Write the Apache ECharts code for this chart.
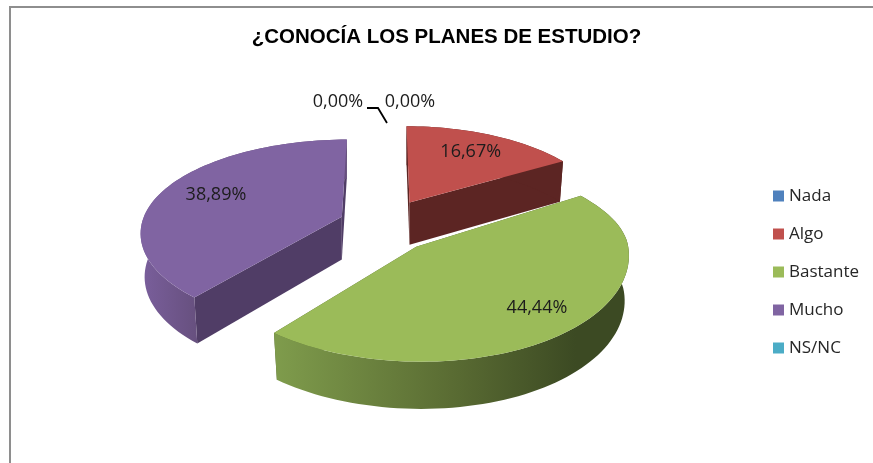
<!DOCTYPE html>
<html>
<head>
<meta charset="utf-8">
<style>
  html, body { margin: 0; padding: 0; background: #fff; }
  #chart-wrapper { width: 873px; height: 463px; }
</style>
<script src="https://cdn.jsdelivr.net/npm/echarts@6/dist/echarts.min.js"></script>
</head>
<body>
<div id="chart-wrapper"></div>
<script>
const categories = ['Nada', 'Algo', 'Bastante', 'Mucho', 'NS/NC']
const percents = [0, 16.67, 44.44, 38.89, 0]
const colors = ['#4f81bd', '#c0504d', '#9bbb59', '#8064a2', '#4bacc6']
const wallColors = ['#2f4d71', '#5c2523', '#4f6130', '#503d66', '#2d6776']
const font = '"Open Sans", sans-serif'

// pie geometry, a cheap perspective over an ellipse
const CX = 386
const CY = 226
const EX = 47
const EY = 27
const DEPTH = 43

// each exploded slice sits at its own distance from the eye
const sliceShape = {
  1: { rx: 194, ry: 90, k: 0.179, gain: 0.958, far: -3, near: 0, labelDx: 0 },
  2: { rx: 212, ry: 105.8, k: 0.08, gain: 1.1, far: -48, near: 5, labelDx: 16 },
  3: { rx: 198, ry: 91, k: 0.179, gain: 0.983, far: 5, near: 0, labelDx: 2 }
}

const total = percents.reduce((a, b) => a + b, 0)
const rad = d => d * Math.PI / 180

const sliceAngles = index => {
  const before = percents.slice(0, index).reduce((a, b) => a + b, 0)
  return [before / total * 360, (before + percents[index]) / total * 360]
}

const projector = (index, start, end) => {
  const mid = rad((start + end) / 2)
  const ax = CX + EX * Math.sin(mid)
  const ay = CY - EY * Math.cos(mid)
  const { rx, ry, k, gain, far, near } = sliceShape[index]
  return (deg, r, bottom) => {
    const t = rad(deg)
    const c = Math.cos(t)
    const s = 1 / (1 + k * r * c)
    const x = rx * r * Math.sin(t) * s + r * c * c * (c > 0 ? far : near)
    const y = ay - ry * r * c * s
    if (!bottom) return [ax + x, y]
    return [ax + x * 0.98, y + DEPTH * (1 + (s * gain - 1) * 0.5)]
  }
}

const arc = (p, start, end, bottom) => {
  const pts = []
  const steps = Math.max(2, Math.ceil((end - start) / 2))
  for (let i = 0; i <= steps; i++) {
    pts.push(p(start + (end - start) * i / steps, 1, bottom))
  }
  return pts
}

const poly = (points, fill) => ({
  type: 'polygon',
  shape: { points },
  style: { fill, stroke: null }
})

const wallFill = index => {
  if (index === 2) {
    return new echarts.graphic.LinearGradient(0, 0, 1, 0, [
      { offset: 0, color: '#7f9c4c' },
      { offset: 0.5, color: '#5a6c33' },
      { offset: 0.85, color: '#3c4a23' },
      { offset: 1, color: '#3c4a23' }
    ])
  }
  if (index === 3) {
    return new echarts.graphic.LinearGradient(0, 0, 1, 0, [
      { offset: 0, color: '#7a5f9c' },
      { offset: 0.27, color: '#67507f' },
      { offset: 1, color: '#67507f' }
    ])
  }
  return wallColors[index]
}

const percentText = v => v.toFixed(2).replace('.', ',') + '%'

const label = (text, x, y) => ({
  type: 'text',
  x,
  y,
  style: {
    text,
    font: '18px ' + font,
    fill: '#1c1c1c',
    align: 'center',
    verticalAlign: 'middle'
  }
})

const renderSlice = params => {
  const index = params.seriesIndex
  const value = percents[index]
  const [start, end] = sliceAngles(index)
  if (value === 0) {
    // zero slices only keep their label, pulled out above the gap
    const zero = index === 0
    const children = [label(percentText(value), zero ? 410 : 338, 102)]
    if (zero) {
      children.push({
        type: 'polyline',
        shape: { points: [[367, 108], [378, 108], [387, 123]] },
        style: { stroke: '#000', lineWidth: 1.8, fill: null }
      })
    }
    return { type: 'group', children }
  }
  const p = projector(index, start, end)
  const topRim = arc(p, start, end, false)
  const lowRim = arc(p, start, end, true)
  const children = [
    poly([p(start, 0), p(start, 1), p(start, 1, true), p(start, 0, true)], wallColors[index]),
    poly([p(end, 0), p(end, 1), p(end, 1, true), p(end, 0, true)], wallColors[index]),
    poly(topRim.concat(lowRim.slice().reverse()), wallFill(index)),
    poly([p(start, 0)].concat(topRim), colors[index])
  ]
  const at = p((start + end) / 2, 0.72)
  children.push(label(percentText(value), at[0] + sliceShape[index].labelDx, at[1]))
  return { type: 'group', children }
}

// back to front: red behind purple behind green
const drawOrder = [0, 2, 4, 3, 1]

const chartDom = document.getElementById('chart-wrapper')
const chart = echarts.init(chartDom)

chart.setOption({
  animation: false,
  backgroundColor: '#fff',
  title: {
    text: '¿CONOCÍA LOS PLANES DE ESTUDIO?',
    left: 441.5,
    top: 22,
    textAlign: 'center',
    textStyle: {
      fontFamily: '"Liberation Sans", Arial, sans-serif',
      fontWeight: 'bold',
      fontSize: 20.5,
      color: '#000'
    }
  },
  legend: {
    orient: 'vertical',
    left: 768,
    top: 180,
    icon: 'rect',
    itemWidth: 11,
    itemHeight: 11,
    itemGap: 16,
    selectedMode: false,
    data: categories,
    textStyle: {
      fontFamily: font,
      fontSize: 17,
      color: '#262626',
      lineHeight: 22,
      padding: [0, 0, 0, 0]
    }
  },
  graphic: [
    {
      type: 'polyline',
      shape: { points: [[10, 463], [10, 7], [873, 7]] },
      style: { stroke: '#8e8e8e', lineWidth: 2, fill: null },
      silent: true
    }
  ],
  series: categories.map((name, i) => ({
    type: 'custom',
    name,
    coordinateSystem: 'none',
    renderItem: renderSlice,
    z: drawOrder[i] + 2,
    itemStyle: { color: colors[i] },
    data: [[percents[i]]],
    silent: true
  }))
})
</script>
</body>
</html>
